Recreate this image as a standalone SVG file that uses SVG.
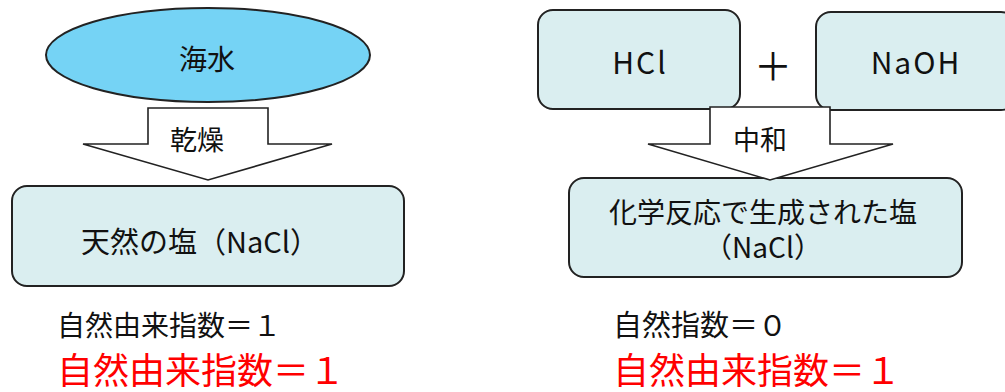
<svg xmlns="http://www.w3.org/2000/svg" width="1005" height="392" viewBox="0 0 1005 392">
<style>
text{font-family:"Noto Sans CJK JP","Noto Sans",sans-serif;fill:#111}
.box{fill:#DAEEF0;stroke:#222;stroke-width:2}
.arrow{fill:#fff;stroke:#222;stroke-width:1.6;stroke-linejoin:miter}
.c{text-anchor:middle}
.red{fill:#f00}
.lat{letter-spacing:2px}
</style>
<rect width="1005" height="392" fill="#fff"/>
<g id="seawater">
<ellipse cx="208" cy="55" rx="162" ry="47" fill="#75D3F5" stroke="#222" stroke-width="2"/>
<text class="c" x="207" y="70" font-size="28">海水</text>
</g>
<g id="natural-salt">
<rect class="box" x="12" y="186" width="392" height="100" rx="15"/>
<text class="c" x="200" y="253" font-size="29">天然の塩（NaCl）</text>
</g>
<g id="hcl">
<rect class="box" x="538" y="10" width="202" height="99" rx="15"/>
<text class="c lat" x="640" y="74" font-size="30">HCl</text>
</g>
<g id="plus">
<text class="c" x="773" y="80" font-size="38">＋</text>
</g>
<g id="naoh">
<rect class="box" x="816" y="12" width="200" height="98" rx="15"/>
<text class="c lat" x="916" y="74" font-size="30">NaOH</text>
</g>
<g id="chem-salt">
<rect class="box" x="569" y="178" width="393" height="99" rx="15"/>
<text class="c" x="763" y="223" font-size="28">化学反応で生成された塩</text>
<text class="c" x="763" y="258" font-size="28">（NaCl）</text>
</g>
<g id="connectors">
<g id="arrow-dry">
<polygon class="arrow" points="148,108 268,108 268,144 332,144 208,180 83,144 148,144"/>
<text class="c" x="197" y="150" font-size="27">乾燥</text>
</g>
<g id="arrow-neutralize">
<polygon class="arrow" points="710,107 830,107 830,144 893,144 770,180 648,144 710,144"/>
<text class="c" x="760" y="150" font-size="27">中和</text>
</g>
</g>
<g id="labels">
<text x="57" y="336" font-size="28">自然由来指数＝１</text>
<text class="red" x="57" y="384" font-size="36">自然由来指数＝１</text>
<text x="613" y="336" font-size="29">自然指数＝０</text>
<text class="red" x="613" y="384" font-size="36">自然由来指数＝１</text>
</g>
</svg>
